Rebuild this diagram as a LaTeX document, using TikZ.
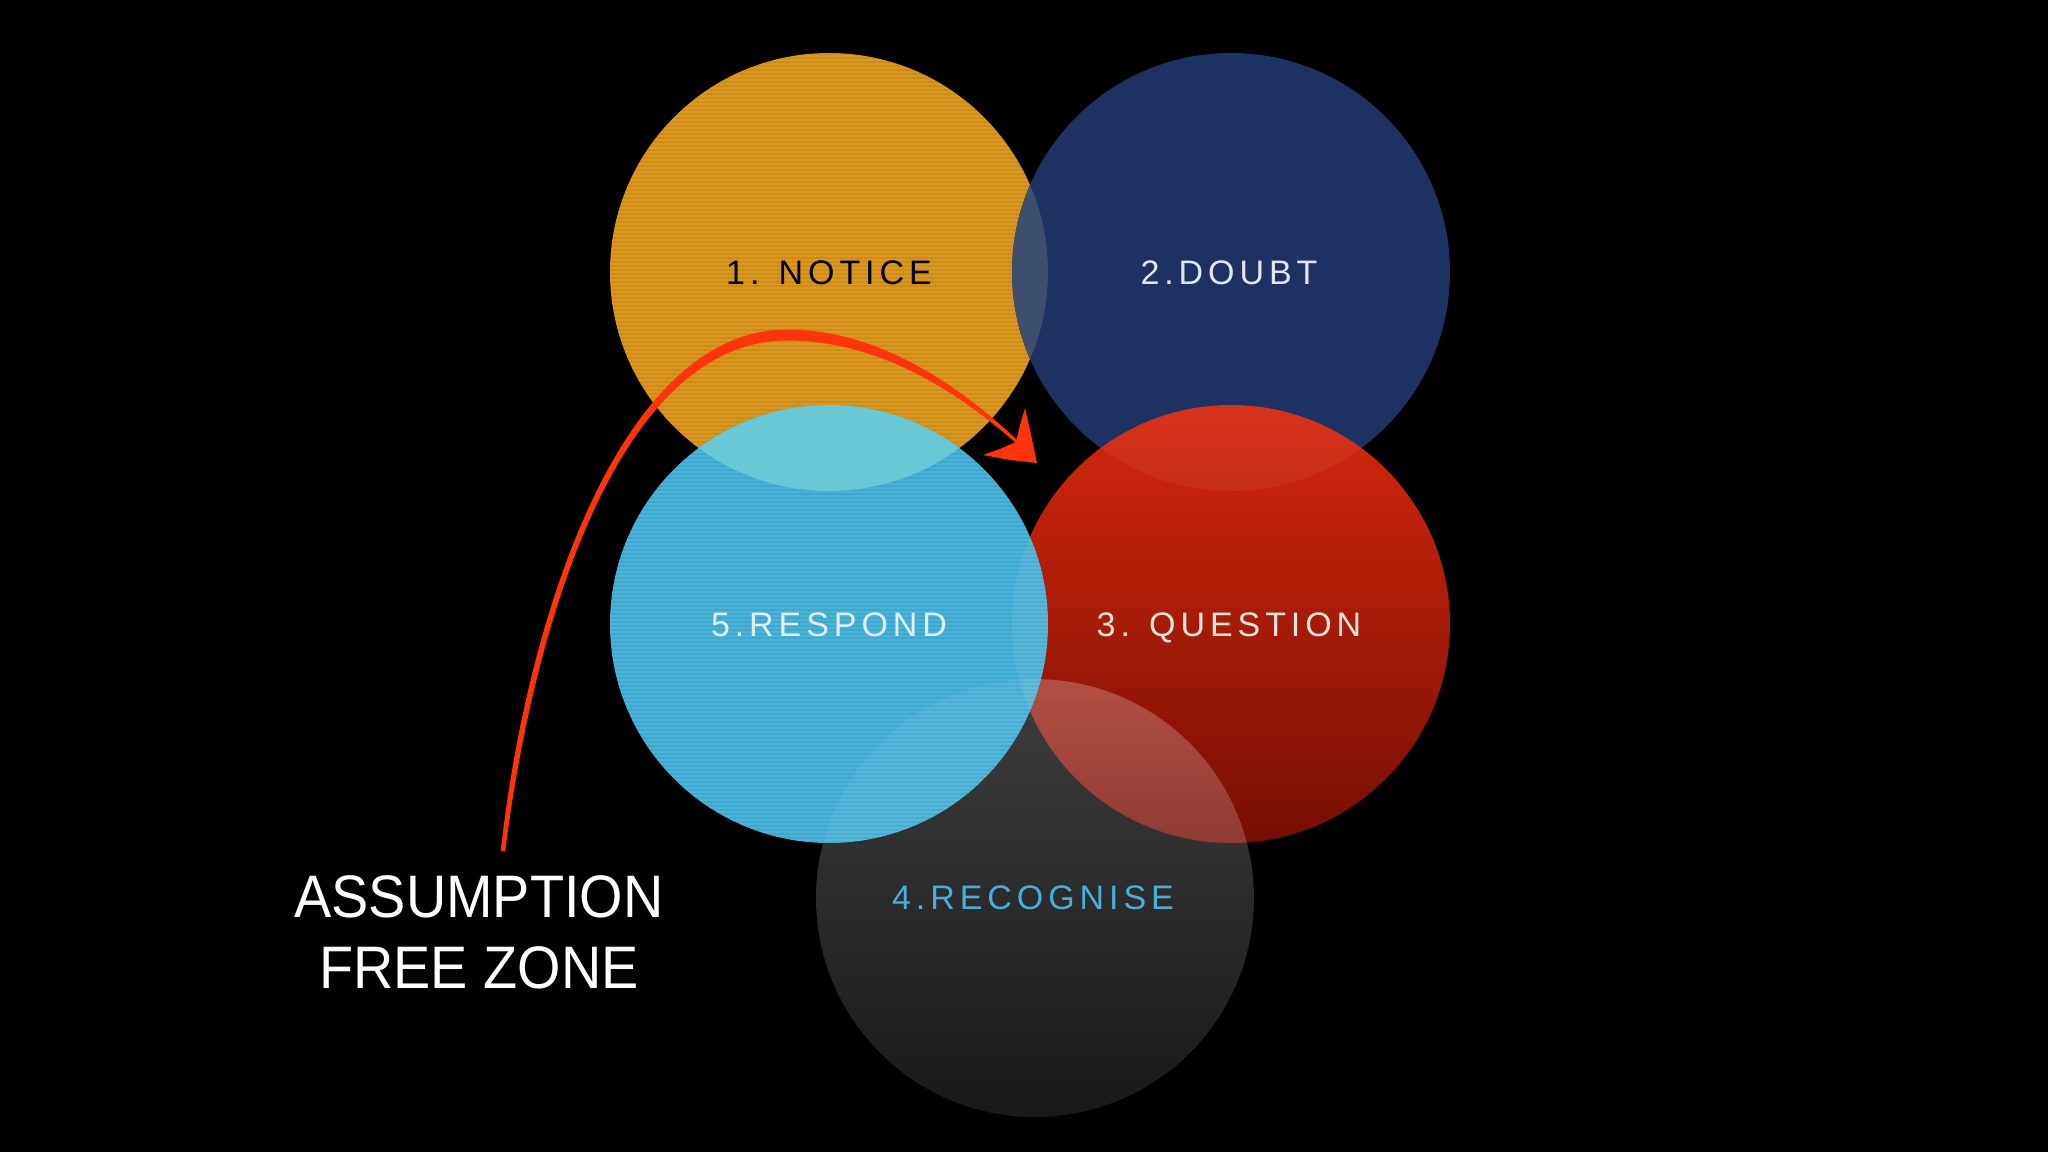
\documentclass[tikz,border=0pt]{standalone}
\usepackage{fontspec}
\setmainfont{Liberation Sans}
\newfontfamily\lblfont[LetterSpace=14.5]{Liberation Sans}
\newfontfamily\azfont[FakeStretch=0.93]{Liberation Sans}
\usetikzlibrary{fadings}
\definecolor{noticeorange}{RGB}{220,152,28}
\definecolor{doubtnavy}{RGB}{28,50,98}
\definecolor{ndlens}{RGB}{62,78,110}
\definecolor{respondcyan}{RGB}{72,180,218}
\definecolor{nrlens}{RGB}{104,200,214}
\definecolor{redtop}{RGB}{214,40,14}
\definecolor{redbot}{RGB}{118,14,4}
\definecolor{arrowred}{RGB}{255,52,10}
\definecolor{txtnavy}{RGB}{226,230,240}
\definecolor{txtcyan}{RGB}{222,240,246}
\definecolor{txtred}{RGB}{242,226,220}
\definecolor{txtgray}{RGB}{70,176,215}
\tikzfading[name=grayfade, top color=transparent!76, bottom color=transparent!90]
\begin{document}
\begin{tikzpicture}[x=1pt,y=-1pt,
  disc/.style={circle, inner sep=0pt, minimum size=438pt},
  stripe/.style={black, line width=1.4pt, draw opacity=0.07},
  lbl/.style={font=\lblfont\fontsize{34}{40}\selectfont, anchor=base, inner sep=0pt},
  bigtxt/.style={font=\azfont\fontsize{60}{72}\selectfont, text=white, anchor=base, inner sep=0pt}]
\fill[black] (0,0) rectangle (2048,1152);
\useasboundingbox (0,0) rectangle (2048,1152);
% circles
\node[disc, fill=noticeorange] (notice) at (829,272) {};
\begin{scope}
  \clip (notice.center) circle (219);
  \foreach \yy in {54,58,...,492} \draw[stripe] (600,\yy) -- (1060,\yy);
\end{scope}
\node[disc, fill=doubtnavy] (doubt) at (1231,272) {};
\begin{scope}
  \clip (notice.center) circle (219);
  \fill[ndlens] (doubt.center) circle (219);
\end{scope}
\node[disc, top color=redtop, bottom color=redbot] (question) at (1231,624) {};
\begin{scope}
  \clip (question.center) circle (219);
  \fill[white, fill opacity=0.05] (doubt.center) circle (219);
\end{scope}
\node[disc] (recognise) at (1035,898) {};
\fill[white, path fading=grayfade] (recognise.center) circle (219);
\node[disc, fill=respondcyan] (respond) at (829,624) {};
\begin{scope}
  \clip (respond.center) circle (219);
  \foreach \yy in {406,410,...,844} \draw[stripe] (600,\yy) -- (1060,\yy);
  \fill[nrlens] (notice.center) circle (219);
  \fill[white, fill opacity=0.08] (question.center) circle (219);
  \fill[white, fill opacity=0.06] (recognise.center) circle (219);
\end{scope}
% labels
\node[lbl, text=black] (noticelbl) at (829,284) {1. NOTICE};
\node[lbl, text=txtnavy] (doubtlbl) at (1229,284) {2.DOUBT};
\node[lbl, text=txtcyan] (respondlbl) at (829,636) {5.RESPOND};
\node[lbl, text=txtred] (questionlbl) at (1229,636) {3. QUESTION};
\node[lbl, text=txtgray] (recogniselbl) at (1033,909) {4.RECOGNISE};
\node[bigtxt] (az1) at (479,917) {ASSUMPTION};
\node[bigtxt] (az2) at (479,988) {FREE ZONE};
% hand-drawn arrow (tapered brush stroke)
\fill[arrowred] (500.8,850.7) .. controls (526,619.5) and (620,329.5) .. (787,329.5)
  .. controls (880,329.5) and (962,387.8) .. (1018,440.9)
  -- (1016,443.1) .. controls (958,392.2) and (880,340.5) .. (787,340.5)
  .. controls (620,340.5) and (534,620.5) .. (505.2,851.3) -- cycle;
\fill[arrowred] (1025,408) -- (1030,430) -- (1037,463) -- (1010,460) -- (983,455) -- (1000,449) -- (1016,442) -- (1020,425) -- cycle;
\end{tikzpicture}
\end{document}
